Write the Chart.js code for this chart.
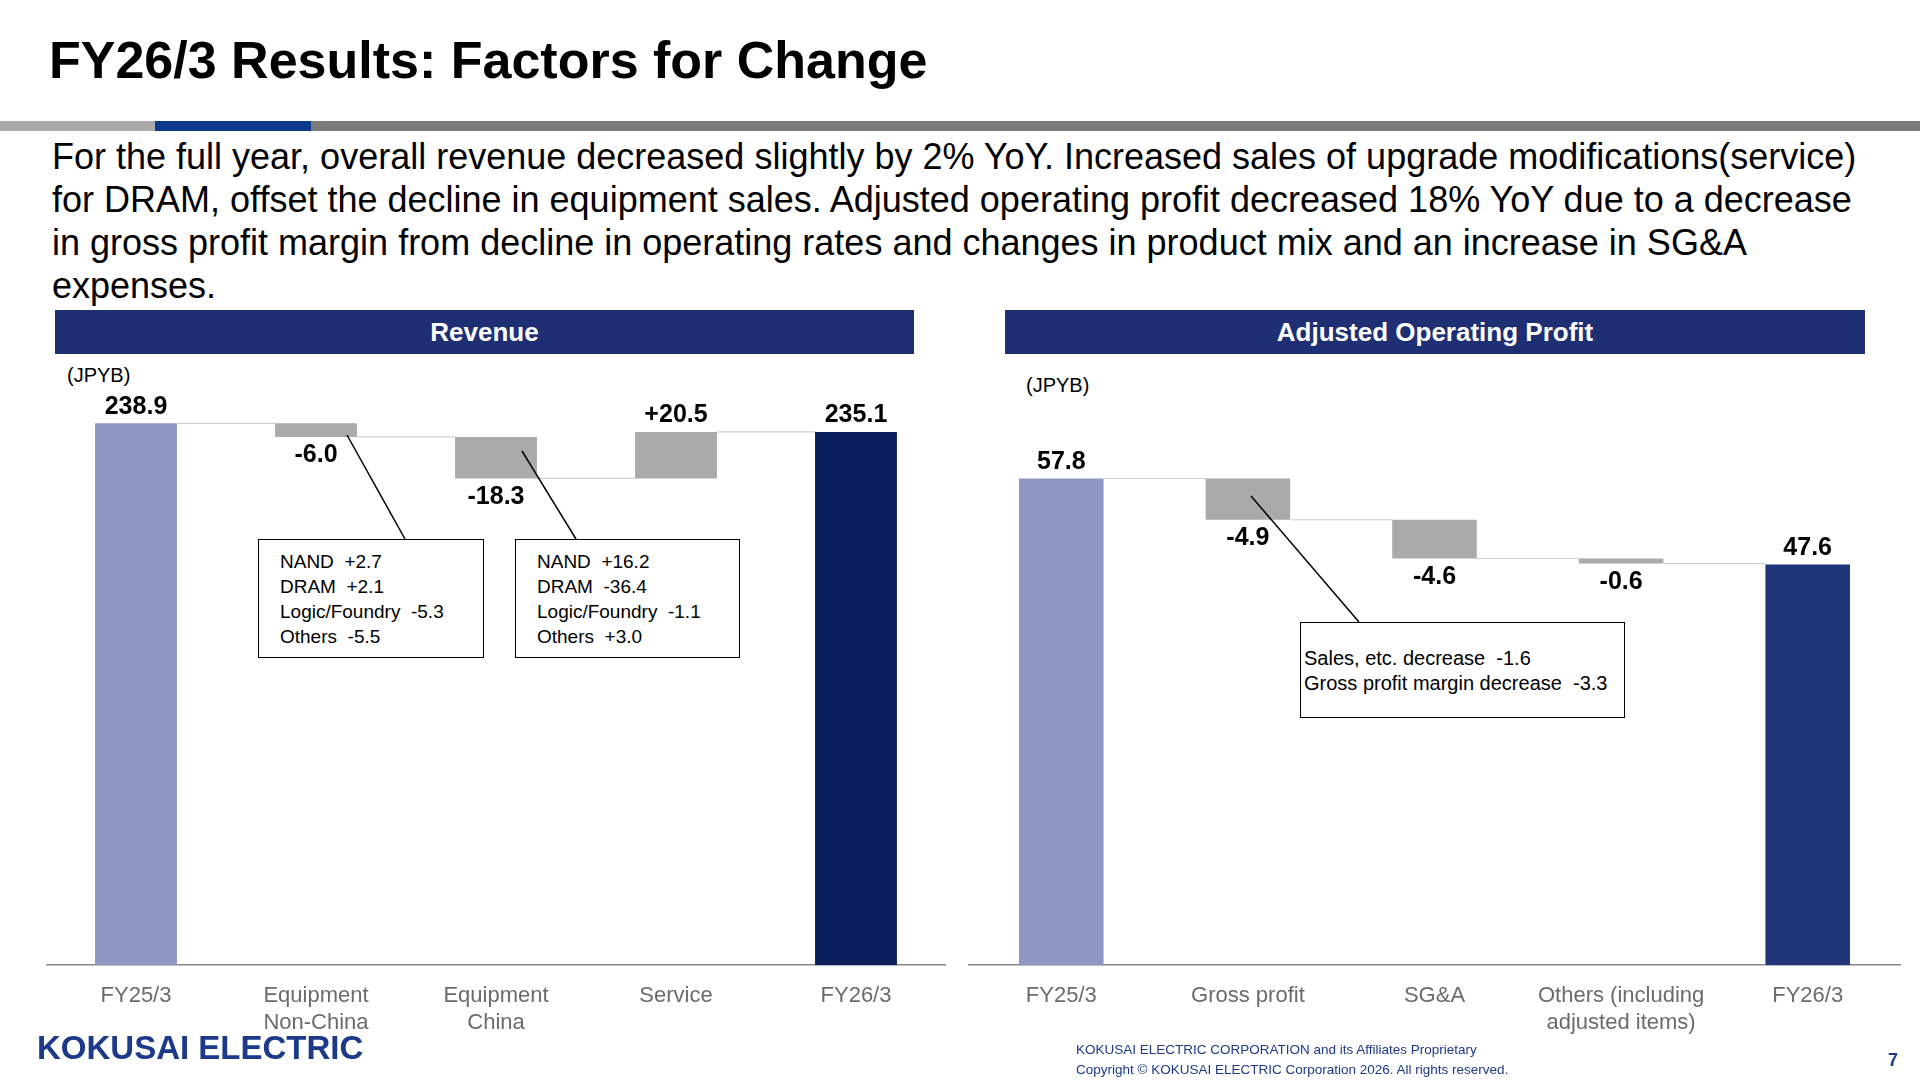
<!DOCTYPE html>
<html><head><meta charset="utf-8">
<script src="https://cdn.jsdelivr.net/npm/chart.js@4.4.0/dist/chart.umd.min.js"></script>
<style>
body{margin:0;width:1920px;height:1080px;background:#fff;font-family:"Liberation Sans",Arial,sans-serif;position:relative;overflow:hidden}
.abs{position:absolute}
h1{position:absolute;left:49px;top:30px;margin:0;font-size:52px;font-weight:bold;color:#000}
.hdr{position:absolute;top:310px;height:44px;background:#1f2f73;color:#fff;font-weight:bold;font-size:26px;text-align:center;line-height:44px}
.box{position:absolute;border:1.5px solid #000;background:#fff;font-size:19px;line-height:25px;box-sizing:border-box}
</style></head><body>
<h1>FY26/3 Results: Factors for Change</h1>
<div class="abs" style="left:0;top:121px;width:155px;height:10px;background:#aaa"></div>
<div class="abs" style="left:155px;top:121px;width:156px;height:10px;background:#0d3b8c"></div>
<div class="abs" style="left:311px;top:121px;width:1609px;height:10px;background:#7a7a7a"></div>
<div class="abs" style="left:52px;top:135px;width:1812px;font-size:36px;line-height:43px;color:#000">For the full year, overall revenue decreased slightly by 2% YoY. Increased sales of upgrade modifications(service) for DRAM, offset the decline in equipment sales. Adjusted operating profit decreased 18% YoY due to a decrease in gross profit margin from decline in operating rates and changes in product mix and an increase in SG&amp;A expenses.</div>
<div class="hdr" style="left:55px;width:859px">Revenue</div>
<div class="hdr" style="left:1005px;width:860px">Adjusted Operating Profit</div>
<div class="abs" style="left:67px;top:364px;font-size:20px">(JPYB)</div>
<div class="abs" style="left:1026px;top:374px;font-size:20px">(JPYB)</div>
<div class="abs" style="left:46px;top:380px;width:900px;height:674px"><canvas id="c1"></canvas></div>
<div class="abs" style="left:968px;top:380px;width:933px;height:674px"><canvas id="c2"></canvas></div>
<svg class="abs" style="left:0;top:0" width="1920" height="1080">
<line x1="347" y1="435" x2="405" y2="539" stroke="#000" stroke-width="1.5"/>
<line x1="522" y1="451" x2="576" y2="539" stroke="#000" stroke-width="1.5"/>
<line x1="1251" y1="496" x2="1359" y2="622" stroke="#000" stroke-width="1.5"/>
</svg>
<div class="box" style="left:258px;top:539px;width:226px;height:119px;padding:9px 0 0 21px">NAND&nbsp; +2.7<br>DRAM&nbsp; +2.1<br>Logic/Foundry&nbsp; -5.3<br>Others&nbsp; -5.5</div>
<div class="box" style="left:515px;top:539px;width:225px;height:119px;padding:9px 0 0 21px">NAND&nbsp; +16.2<br>DRAM&nbsp; -36.4<br>Logic/Foundry&nbsp; -1.1<br>Others&nbsp; +3.0</div>
<div class="box" style="left:1300px;top:622px;width:325px;height:96px;padding:23px 0 0 3px;font-size:20px">Sales, etc. decrease&nbsp; -1.6<br>Gross profit margin decrease&nbsp; -3.3</div>
<div class="abs" style="left:37px;top:1029px;font-size:33px;font-weight:bold;color:#1d3a8a">KOKUSAI ELECTRIC</div>
<div class="abs" style="left:1076px;top:1040px;font-size:13.5px;line-height:20px;color:#1d3a8a">KOKUSAI ELECTRIC CORPORATION and its Affiliates Proprietary<br>Copyright © KOKUSAI ELECTRIC Corporation 2026. All rights reserved.</div>
<div class="abs" style="left:1888px;top:1050px;font-size:18px;font-weight:bold;color:#1d3a8a">7</div>
<script>
const revLabels = [["FY25/3"], ["Equipment", "Non-China"], ["Equipment", "China"], ["Service"], ["FY26/3"]];
const revStart = 238.9;
const revDeltas = [-6.0, -18.3, 20.5];
const revEnd = 235.1;
const aopLabels = [["FY25/3"], ["Gross profit"], ["SG&A"], ["Others (including", "adjusted items)"], ["FY26/3"]];
const aopStart = 57.8;
const aopDeltas = [-4.9, -4.6, -0.6];
const aopEnd = 47.6;

function build(start, deltas, end) {
  const ranges = [[0, start]];
  const texts = [start.toFixed(1)];
  let cur = start;
  deltas.forEach(d => {
    ranges.push([cur, cur + d]);
    texts.push((d > 0 ? "+" : "") + d.toFixed(1));
    cur += d;
  });
  ranges.push([0, end]);
  texts.push(end.toFixed(1));
  return { ranges, texts };
}

const waterfallPlugin = {
  id: "waterfall",
  afterDatasetsDraw(chart) {
    const ctx = chart.ctx;
    const meta = chart.getDatasetMeta(0);
    const y = chart.scales.y;
    const ranges = chart.data.datasets[0].data;
    const texts = chart.options.plugins.waterfall.texts;
    ctx.save();
    ctx.strokeStyle = "#d0d0d0";
    ctx.lineWidth = 1.2;
    for (let i = 0; i < ranges.length - 1; i++) {
      const lvl = ranges[i][1];
      const a = meta.data[i], b = meta.data[i + 1];
      ctx.beginPath();
      ctx.moveTo(a.x + a.width / 2, y.getPixelForValue(lvl));
      ctx.lineTo(b.x - b.width / 2, y.getPixelForValue(lvl));
      ctx.stroke();
    }
    ctx.fillStyle = "#000";
    ctx.font = "bold 25px Liberation Sans, Arial";
    ctx.textAlign = "center";
    ranges.forEach((r, i) => {
      const bar = meta.data[i];
      const top = Math.max(r[0], r[1]), bot = Math.min(r[0], r[1]);
      if (r[1] >= r[0]) {
        ctx.textBaseline = "bottom";
        ctx.fillText(texts[i], bar.x, y.getPixelForValue(top) - 4);
      } else {
        ctx.textBaseline = "top";
        ctx.fillText(texts[i], bar.x, y.getPixelForValue(bot) + 6);
      }
    });
    ctx.restore();
  }
};

function makeChart(id, labels, wf, colors, max, barPct) {
  new Chart(document.getElementById(id), {
    type: "bar",
    data: { labels: labels, datasets: [{ data: wf.ranges, backgroundColor: colors, borderSkipped: false, barPercentage: barPct, categoryPercentage: 1 }] },
    options: {
      responsive: true, maintainAspectRatio: false, animation: false,
      layout: { padding: { top: 0, bottom: 0 } },
      plugins: { legend: { display: false }, tooltip: { enabled: false }, waterfall: { texts: wf.texts } },
      scales: {
        y: { display: false, min: 0, max: max },
        x: {
          grid: { display: false, drawTicks: false },
          border: { color: "#888", width: 1.5 },
          ticks: { color: "#6b6b6b", font: { size: 22, family: "Liberation Sans, Arial" }, padding: 18 }
        }
      }
    },
    plugins: [waterfallPlugin]
  });
}

const g = "#aaaaaa";
makeChart("c1", revLabels, build(revStart, revDeltas, revEnd), ["#8f96c4", g, g, g, "#0a1f5c"], 258, 0.455);
makeChart("c2", aopLabels, build(aopStart, aopDeltas, aopEnd), ["#8f96c4", g, g, g, "#1f3578"], 69.5, 0.453);
</script>
</body></html>
